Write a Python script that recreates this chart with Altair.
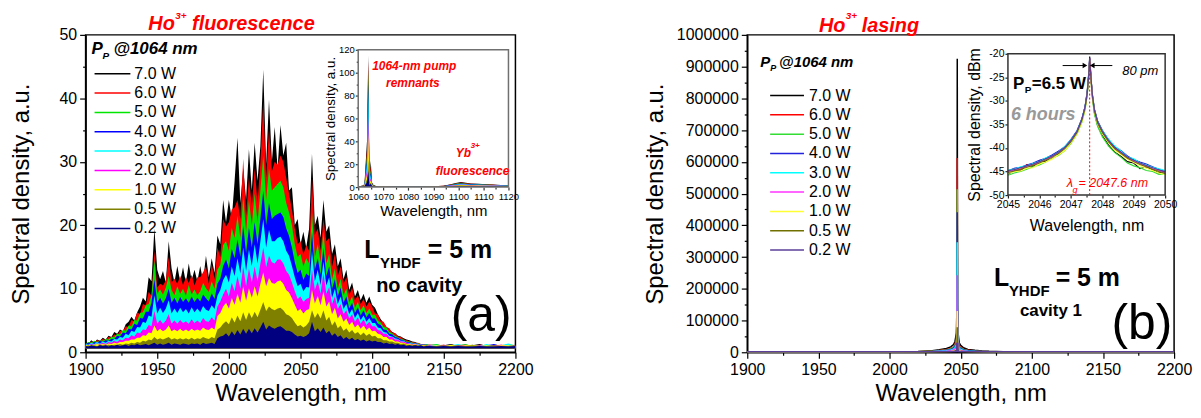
import altair as alt
import pandas as pd

FONT = "Liberation Sans, Arial, Helvetica, sans-serif"

SERIES = ["7.0 W", "6.0 W", "5.0 W", "4.0 W", "3.0 W", "2.0 W", "1.0 W", "0.5 W", "0.2 W"]
COLORS_A = ["#000000", "#ff0000", "#00e600", "#0000ff", "#00ffff", "#ff00ff", "#ffff00", "#808000", "#000080"]
COLORS_B = ["#000000", "#ff0000", "#33dd33", "#2222dd", "#00ffff", "#ff33ff", "#ffff33", "#707000", "#5b3f99"]
WIDTH_B = [1.5, 1.5, 1.5, 1.5, 1.5, 1.5, 1.5, 1.5, 2.5]

# ---------------- panel (a): Ho3+ fluorescence ----------------
WL_A = list(range(1900, 2141, 2)) + list(range(2145, 2201, 5))

FL70 = [1.6,1.4,1.9,1.5,2.0,1.8,2.3,2.0,2.6,2.4,
        3.2,2.9,3.6,3.3,4.4,4.8,5.6,5.0,6.3,7.2,
        8.6,8.0,11.8,11.2,19.5,13.0,11.5,12.8,11.0,17.5,
        13.2,11.0,13.6,11.2,13.4,11.0,14.0,11.3,13.0,11.2,
        13.6,11.2,15.2,11.8,14.8,12.5,18.4,17.0,24.0,20.5,
        24.0,21.0,27.0,33.8,23.5,29.0,24.0,32.0,25.5,33.0,
        27.0,32.5,44.5,29.5,39.8,30.0,35.5,29.0,35.8,31.0,
        33.0,25.5,26.0,20.0,21.0,17.0,19.0,16.5,19.5,31.3,
        20.0,21.5,18.0,24.0,19.0,20.0,15.5,17.0,13.5,14.8,
        11.5,13.0,9.8,11.0,8.8,9.8,8.2,9.2,7.8,8.8,
        7.5,7.0,6.0,5.2,4.6,4.0,3.6,3.2,3.0,2.6,
        2.5,2.2,2.0,1.9,1.7,1.6,1.4,1.3,1.3,1.2,1.2,
        1.2,1.1,1.3,1.0,1.2,1.1,1.3,1.0,1.2,1.1,1.2,1.1]
FL60 = [1.5,1.3,1.7,1.6,1.9,1.8,2.1,1.9,2.4,2.3,
        2.8,2.6,3.4,3.3,4.1,4.0,5.1,4.9,6.3,6.0,
        7.6,7.4,9.5,8.9,16.0,10.2,10.8,10.5,11.3,15.0,
        11.0,11.6,10.8,12.0,10.6,11.8,10.9,12.2,10.5,11.8,
        11.8,12.6,13.5,10.8,13.9,11.5,16.5,15.0,21.0,19.8,
        20.5,22.5,22.8,24.0,21.0,30.5,21.5,27.5,23.0,29.0,
        23.5,30.0,39.5,27.5,35.0,28.5,30.0,29.5,31.0,30.0,
        27.5,25.0,22.5,19.5,17.0,17.5,15.5,16.8,16.0,27.5,
        18.5,19.5,16.0,21.0,17.5,18.0,13.5,15.5,12.0,13.5,
        10.8,11.8,9.0,10.2,8.2,9.0,7.6,8.4,7.2,8.0,
        7.2,6.1,6.0,4.9,4.8,4.0,3.8,3.1,3.0,2.5,
        2.4,2.0,1.9,1.7,1.6,1.5,1.5,1.3,1.3,1.2,1.2,
        1.1,1.2,1.0,1.2,1.1,1.0,1.2,1.1,1.0,1.2,1.1,1.0]
FL50 = [1.4,1.6,1.5,1.8,1.6,1.9,1.8,2.1,2.0,2.4,
        2.4,2.9,2.8,3.5,3.4,4.2,4.1,5.1,5.0,6.2,
        6.3,7.4,7.6,9.0,14.5,9.2,9.9,9.1,10.2,12.0,
        9.8,9.0,10.4,9.2,10.0,8.9,10.6,9.1,9.9,9.0,
        9.6,10.9,10.1,9.5,11.2,10.0,13.0,13.8,16.9,17.5,
        16.0,19.6,18.0,21.5,18.0,24.5,19.0,24.0,20.0,25.0,
        20.5,25.5,31.0,24.0,29.0,25.5,26.0,26.5,27.0,26.0,
        23.5,22.0,20.0,17.0,15.0,15.5,13.5,14.8,14.0,22.0,
        15.0,17.0,14.2,19.0,14.0,15.5,11.5,13.2,10.0,11.6,
        9.0,10.0,7.8,8.8,7.0,7.9,6.6,7.4,6.2,6.9,
        5.9,5.9,5.0,4.7,4.0,3.9,3.2,3.0,2.6,2.4,
        2.1,2.0,1.7,1.7,1.5,1.5,1.4,1.3,1.2,1.3,1.1,
        1.3,1.0,1.1,1.1,1.3,1.0,1.1,1.2,1.1,1.0,1.3,1.1]
FL40 = [1.3,1.5,1.4,1.6,1.5,1.8,1.6,1.9,1.8,2.1,
        2.1,2.6,2.5,3.1,3.0,3.7,3.6,4.5,4.3,5.4,
        5.3,6.4,6.4,7.8,11.5,7.8,8.6,7.7,8.5,10.0,
        7.8,8.6,7.7,8.7,7.9,8.5,7.8,8.8,7.9,8.6,
        8.0,9.1,8.5,8.0,9.3,8.4,10.8,11.6,13.6,14.6,
        13.2,16.3,14.8,17.8,15.0,20.0,15.6,19.6,16.5,20.5,
        17.0,21.0,25.5,20.0,23.5,21.0,21.5,21.8,22.0,21.3,
        19.5,18.3,16.5,14.2,12.5,13.0,11.4,12.4,12.0,19.0,
        13.0,14.8,12.2,16.5,12.0,13.5,10.0,11.5,8.8,10.2,
        7.8,8.8,6.9,7.8,6.2,7.1,5.8,6.6,5.5,6.2,
        5.3,5.3,4.5,4.3,3.6,3.5,2.9,2.8,2.4,2.3,
        2.0,1.9,1.6,1.6,1.4,1.5,1.3,1.3,1.2,1.2,1.1,
        1.0,1.1,1.2,1.0,1.0,1.2,1.0,1.1,1.3,1.0,1.0,1.2]
FL30 = [1.3,1.2,1.5,1.3,1.6,1.4,1.7,1.5,1.8,1.7,
        2.1,2.0,2.4,2.3,2.9,2.7,3.4,3.2,4.0,3.9,
        4.8,4.6,5.8,5.6,9.0,6.1,7.0,6.2,6.9,8.2,
        6.1,6.9,6.2,7.0,6.3,6.8,6.1,7.1,6.3,6.9,
        6.3,7.3,6.7,6.5,7.4,6.8,8.9,9.8,11.4,12.2,
        11.0,13.5,12.0,14.8,12.4,16.5,12.8,16.2,13.6,17.0,
        14.0,17.5,21.0,16.5,19.3,17.5,17.5,18.0,18.2,17.5,
        16.0,15.2,13.6,11.8,10.4,10.8,9.6,10.3,10.2,16.0,
        11.2,13.0,10.6,14.3,10.5,11.8,8.6,10.0,7.6,8.8,
        6.8,7.6,6.0,6.8,5.4,6.2,5.1,5.8,4.8,5.4,
        4.6,4.6,3.9,3.8,3.2,3.1,2.6,2.5,2.2,2.1,
        1.8,1.8,1.5,1.5,1.4,1.4,1.3,1.2,1.2,1.2,1.1,
        1.2,1.0,1.1,1.3,1.0,1.1,1.0,1.3,1.0,1.1,1.4,1.0]
FL20 = [1.2,1.1,1.3,1.2,1.4,1.3,1.5,1.3,1.6,1.5,
        1.8,1.6,2.0,1.9,2.3,2.2,2.7,2.5,3.1,3.0,
        3.6,3.5,4.3,4.1,6.5,4.5,5.1,4.5,5.0,6.0,
        4.5,5.0,4.5,5.1,4.6,4.9,4.5,5.2,4.6,5.0,
        4.6,5.4,4.9,4.8,5.5,5.0,7.2,8.0,9.1,10.0,
        8.8,11.0,9.6,12.0,10.0,13.5,10.4,13.2,11.0,13.5,
        11.2,14.0,16.5,13.4,15.2,14.2,14.0,14.6,14.6,14.0,
        12.8,12.2,11.0,9.6,8.4,8.8,7.9,8.4,8.6,13.0,
        9.8,11.2,9.2,12.5,9.2,10.3,7.6,8.8,6.8,7.6,
        6.0,6.6,5.3,6.0,4.8,5.5,4.5,5.2,4.3,4.8,
        4.1,4.1,3.5,3.4,2.9,2.9,2.4,2.4,2.0,2.0,
        1.7,1.7,1.5,1.4,1.3,1.4,1.2,1.2,1.2,1.1,1.1,
        1.0,1.2,1.0,1.1,1.2,1.0,1.1,1.0,1.1,1.2,1.0,1.1]
FL10 = [1.1,1.2,1.1,1.2,1.3,1.2,1.3,1.2,1.4,1.3,
        1.5,1.4,1.6,1.6,1.8,1.8,2.0,2.0,2.3,2.3,
        2.7,2.6,3.1,3.0,4.2,3.3,3.7,3.3,3.6,4.2,
        3.3,3.6,3.3,3.7,3.3,3.6,3.3,3.7,3.4,3.6,
        3.4,3.9,3.6,3.5,3.9,3.6,5.7,6.2,7.2,7.8,
        6.9,8.6,7.5,9.2,7.8,10.4,8.1,10.1,8.6,10.4,
        8.8,10.8,12.6,10.4,11.7,10.9,10.8,11.2,11.3,10.8,
        9.8,9.4,8.5,7.5,6.5,6.8,6.1,6.6,6.8,9.8,
        7.7,8.9,7.4,9.6,7.2,8.0,6.0,7.0,5.3,6.0,
        4.8,5.3,4.3,4.8,3.9,4.4,3.7,4.2,3.5,3.9,
        3.3,3.4,2.9,2.8,2.4,2.4,2.0,2.0,1.7,1.7,
        1.5,1.5,1.3,1.3,1.2,1.3,1.1,1.2,1.1,1.1,1.0,
        1.1,1.0,1.2,1.0,1.1,1.2,1.0,1.1,1.0,1.1,1.1,1.0]
FL05 = [1.0,1.1,1.0,1.1,1.0,1.2,1.1,1.1,1.2,1.1,
        1.2,1.2,1.3,1.2,1.4,1.3,1.5,1.4,1.6,1.5,
        1.8,1.7,2.0,1.9,2.4,2.0,2.2,2.0,2.2,2.4,
        2.0,2.2,2.0,2.2,2.0,2.2,2.0,2.3,2.0,2.2,
        2.1,2.4,2.2,2.1,2.4,2.2,3.6,3.9,4.5,4.9,
        4.4,5.5,4.7,5.8,4.9,6.3,5.1,6.3,5.4,6.4,
        5.5,6.7,7.9,6.5,7.2,6.8,6.6,6.9,7.0,6.6,
        6.0,5.8,5.4,4.7,4.1,4.3,3.9,4.2,4.8,6.6,
        5.4,6.2,5.3,6.6,5.0,5.6,4.2,4.9,3.8,4.2,
        3.4,3.8,3.1,3.5,2.9,3.2,2.7,3.1,2.6,2.9,
        2.5,2.6,2.2,2.2,1.9,1.9,1.7,1.7,1.5,1.5,
        1.3,1.4,1.2,1.2,1.1,1.2,1.1,1.1,1.0,1.1,1.0,
        1.0,1.1,1.0,1.1,1.0,1.1,1.0,1.0,1.1,1.0,1.0,1.1]
FL02 = [1.0,0.9,1.1,1.0,0.9,1.1,1.0,1.1,0.9,1.1,
        1.0,1.2,1.0,1.1,1.2,1.0,1.2,1.1,1.3,1.1,
        1.2,1.3,1.1,1.3,1.5,1.2,1.4,1.2,1.3,1.5,
        1.2,1.4,1.3,1.2,1.4,1.3,1.2,1.4,1.3,1.4,
        1.2,1.5,1.3,1.4,1.5,1.3,2.2,2.5,2.6,3.0,
        2.5,3.3,2.7,3.5,2.8,3.7,2.9,3.7,3.0,3.8,
        3.1,3.9,4.8,3.6,4.2,3.9,3.7,4.0,4.1,3.8,
        3.4,3.4,3.2,2.8,2.5,2.6,2.4,2.6,3.0,4.8,
        3.3,3.8,3.2,3.9,3.0,3.4,2.6,3.0,2.4,2.7,
        2.1,2.4,2.0,2.3,1.9,2.1,1.8,2.0,1.7,1.9,
        1.7,1.8,1.6,1.6,1.4,1.5,1.3,1.4,1.2,1.3,
        1.1,1.2,1.0,1.1,1.0,1.1,1.0,1.1,0.9,1.0,1.0,
        0.9,1.0,0.9,1.0,0.9,0.9,1.0,0.9,0.9,1.0,0.9,1.0]
FL_ALL = [FL70, FL60, FL50, FL40, FL30, FL20, FL10, FL05, FL02]

# inset (a): pump remnant and Yb3+ fluorescence
IX_A = [1060, 1061, 1062, 1062.5, 1063, 1063.5, 1064, 1064.5, 1065, 1065.5, 1066, 1067, 1068, 1070,
        1075, 1080, 1085, 1090, 1094, 1097, 1099, 1101, 1103, 1105, 1108, 1111, 1114, 1117, 1120]
IA70 = [1,1,1.5,3,22,40,115,8,23,4,2,1,1,0.8,0.6,0.6,0.6,0.8,1.2,2.5,3.5,4.5,3.8,3.2,3.0,2.6,2.2,1.8,1.5]
IA60 = [0.8,1,1.3,2.5,18,32,110,7,18,3.5,1.8,1,0.9,0.7,0.6,0.6,0.6,0.7,1.1,2.2,3.2,4.0,3.4,3.0,2.8,2.4,2.0,1.6,1.4]
IA50 = [0.8,0.9,1.2,2.2,15,28,103,6,15,3,1.6,0.9,0.8,0.7,0.5,0.5,0.5,0.7,1.0,2.0,3.0,3.6,3.0,2.7,2.5,2.2,1.8,1.5,1.3]
IA40 = [0.7,0.8,1.1,2,13,24,92,5,13,2.6,1.4,0.8,0.7,0.6,0.5,0.5,0.5,0.6,0.9,1.8,2.6,3.2,2.7,2.4,2.2,2.0,1.6,1.4,1.2]
IA30 = [0.7,0.8,1,1.8,11,20,85,4.5,11,2.3,1.2,0.8,0.7,0.6,0.5,0.5,0.5,0.6,0.8,1.6,2.3,2.8,2.4,2.1,2.0,1.8,1.5,1.3,1.1]
IA20 = [0.6,0.7,0.9,1.5,8,15,62,3.5,8,1.9,1.0,0.7,0.6,0.5,0.4,0.4,0.4,0.5,0.7,1.3,1.9,2.3,2.0,1.8,1.7,1.5,1.3,1.1,1.0]
IA10 = [0.6,0.7,0.8,1.3,6,11,47,3,6,1.6,0.9,0.6,0.5,0.5,0.4,0.4,0.4,0.5,0.6,1.0,1.5,1.8,1.6,1.5,1.4,1.2,1.1,1.0,0.9]
IA05 = [0.5,0.6,0.7,1,4,7,24,2,4,1.2,0.7,0.5,0.5,0.4,0.4,0.4,0.4,0.4,0.5,0.8,1.1,1.3,1.2,1.1,1.0,0.9,0.8,0.8,0.7]
IA02 = [0.5,0.5,0.6,0.8,2.5,4,14,1.5,3,1.0,0.6,0.5,0.4,0.4,0.3,0.3,0.3,0.4,0.4,0.6,0.8,0.9,0.9,0.8,0.8,0.7,0.7,0.6,0.6]
IA_ALL = [IA70, IA60, IA50, IA40, IA30, IA20, IA10, IA05, IA02]

# ---------------- panel (b): Ho3+ lasing ----------------
WL_B = [1900, 1990, 2010, 2020, 2030, 2035, 2040, 2043, 2045, 2046, 2047, 2047.4, 2047.6, 2047.8,
        2048.2, 2049, 2050, 2052, 2055, 2060, 2065, 2070, 2080, 2100, 2200]
LB70 = [0,500,1500,2500,5000,8000,12000,17000,24000,34000,60000,150000,925000,150000,60000,30000,22000,14000,9000,6000,4000,3000,2000,800,0]
LB60 = [0,300,1000,1800,3500,5500,8500,12000,17000,24000,42000,100000,612000,100000,42000,21000,15000,9500,6000,4000,2800,2000,1300,500,0]
LB50 = [0,250,900,1500,3000,4800,7500,10500,15000,21000,36000,85000,514000,85000,36000,18000,13000,8300,5300,3500,2400,1800,1100,400,0]
LB40 = [0,200,800,1300,2600,4200,6500,9000,13000,18000,31000,72000,441000,72000,31000,15500,11000,7100,4500,3000,2100,1500,1000,350,0]
LB30 = [0,150,600,1000,2000,3300,5000,7000,10000,14000,24000,57000,347000,57000,24000,12000,8500,5500,3500,2300,1600,1200,800,300,0]
LB20 = [0,100,400,700,1400,2300,3500,5000,7000,10000,17000,40000,243000,40000,17000,8500,6000,3900,2500,1600,1100,800,500,200,0]
LB10 = [0,60,200,400,800,1200,1900,2700,3800,5300,9000,21000,130000,21000,9000,4500,3200,2100,1300,900,600,450,300,100,0]
LB05 = [0,40,120,250,500,750,1150,1600,2300,3200,5500,13000,79000,13000,5500,2700,1900,1250,800,550,350,270,180,60,0]
LB02 = [0,20,50,100,200,300,450,650,900,1300,2200,5000,30000,5000,2200,1100,750,500,300,200,150,100,70,25,0]
LB_ALL = [LB70, LB60, LB50, LB40, LB30, LB20, LB10, LB05, LB02]

# inset (b): lasing line in dBm
IX_B = [2045.0, 2045.2, 2045.4, 2045.6, 2045.8, 2046.0, 2046.2, 2046.4, 2046.6, 2046.8, 2047.0, 2047.2,
        2047.35, 2047.45, 2047.52, 2047.57, 2047.6, 2047.63, 2047.68, 2047.75, 2047.85, 2048.0, 2048.2,
        2048.4, 2048.6, 2048.8, 2049.0, 2049.2, 2049.4, 2049.6, 2049.8, 2050.0]
IB70 = [-45.6,-44.8,-44.9,-43.6,-43.9,-42.8,-42.9,-41.6,-41.3,-39.9,-38.6,-36.4,-34.1,-31.3,-28.0,-24.0,-20.6,-23.5,-28.8,-32.5,-35.2,-37.3,-39.4,-40.9,-41.8,-42.9,-43.2,-44.4,-44.0,-44.6,-45.3,-45.0]
IB60 = [-45.0,-44.4,-44.6,-43.5,-43.6,-42.7,-42.3,-41.9,-40.8,-40.1,-38.4,-36.6,-33.9,-31.6,-28.6,-24.8,-21.3,-24.3,-28.4,-31.8,-34.3,-36.4,-38.2,-39.9,-40.8,-41.8,-42.5,-43.1,-43.7,-44.1,-44.6,-45.1]
IB50 = [-45.8,-45.3,-45.0,-44.5,-44.0,-43.6,-43.0,-42.2,-41.6,-40.6,-39.1,-37.0,-34.6,-32.0,-29.0,-25.0,-21.5,-24.6,-29.2,-32.8,-35.4,-37.6,-39.6,-41.0,-42.0,-43.2,-43.8,-44.2,-44.8,-45.0,-45.6,-45.5]
IB40 = [-44.9,-44.3,-44.1,-43.6,-43.2,-42.6,-42.2,-41.5,-40.7,-39.8,-38.2,-36.3,-33.8,-31.3,-28.3,-24.3,-20.8,-23.8,-28.3,-31.7,-34.2,-36.2,-38.3,-39.8,-40.6,-41.7,-42.5,-43.0,-43.4,-44.0,-44.5,-44.9]
IB30 = [-44.7,-44.5,-44.0,-43.8,-43.3,-42.9,-42.1,-41.7,-40.9,-39.7,-38.3,-36.4,-33.9,-31.4,-28.4,-24.6,-21.2,-24.1,-28.4,-31.9,-34.4,-36.3,-38.1,-39.6,-40.7,-41.9,-42.3,-43.2,-43.6,-44.1,-44.4,-44.8]
IB20 = [-45.1,-44.7,-44.4,-43.9,-43.6,-43.1,-42.5,-41.9,-41.1,-40.1,-38.6,-36.6,-34.1,-31.6,-28.6,-24.6,-21.2,-24.2,-28.6,-32.1,-34.6,-36.6,-38.6,-40.1,-41.1,-42.1,-42.8,-43.4,-43.9,-44.4,-44.9,-45.3]
IB10 = [-45.4,-45.0,-44.9,-44.3,-44.2,-43.4,-43.0,-42.4,-41.5,-40.6,-39.0,-37.0,-34.5,-31.9,-28.9,-24.9,-21.4,-24.5,-28.9,-32.4,-34.9,-37.0,-38.9,-40.5,-41.4,-42.4,-43.1,-43.8,-44.3,-44.8,-45.3,-45.7]
IB05 = [-45.2,-44.9,-44.5,-44.1,-43.7,-43.2,-42.6,-42.0,-41.2,-40.2,-38.7,-36.7,-34.2,-31.7,-28.7,-24.7,-21.3,-24.3,-28.7,-32.2,-34.7,-36.7,-38.7,-40.2,-41.2,-42.2,-42.9,-43.5,-44.0,-44.5,-45.0,-45.4]
IB02 = [-44.8,-44.6,-44.2,-43.8,-43.4,-42.9,-42.3,-41.7,-40.9,-39.9,-38.4,-36.4,-33.9,-31.4,-28.4,-24.4,-21.0,-24.0,-28.4,-31.9,-34.4,-36.4,-38.4,-39.9,-40.9,-41.9,-42.6,-43.2,-43.7,-44.2,-44.7,-45.1]
IB_ALL = [IB70, IB60, IB50, IB40, IB30, IB20, IB10, IB05, IB02]

# axis tick values
X_TICKS = list(range(1900, 2201, 25))
YA_TICKS = list(range(0, 51, 5))
YB_TICKS = list(range(0, 1000001, 50000))
XIA_TICKS = list(range(1060, 1121, 5))
YIA_TICKS = list(range(0, 121, 10))
XIB_TICKS = [2045, 2045.5, 2046, 2046.5, 2047, 2047.5, 2048, 2048.5, 2049, 2049.5, 2050]
YIB_TICKS = list(range(-50, -19, 5))

ONE = pd.DataFrame({"d": [0]})


def txt(s, x, y, size, color="black", weight="normal", style="normal", align="left"):
    return alt.Chart(ONE).mark_text(
        text=s, fontSize=size, color=color, fontWeight=weight, fontStyle=style,
        font=FONT, align=align, baseline="middle"
    ).encode(x=alt.value(x), y=alt.value(y))


def tsize(test, minor, major):
    return {"condition": {"test": test, "value": minor}, "value": major}


def main_x_axis():
    return alt.Axis(title="Wavelength, nm", values=X_TICKS,
                    labelExpr="datum.value % 50 === 0 ? '' + datum.value : ''",
                    tickSize=tsize("datum.value % 50 !== 0", 3, 6),
                    labelFlush=False, labelOverlap=False, labelFontSize=16, labelPadding=3,
                    titleFontSize=24, titleFontWeight="normal", titlePadding=4)


def frame(df, xs, ys, xax, yax, stroke=None):
    if stroke is None:
        m = alt.Chart(df).mark_rect(fill="white", fillOpacity=1)
    else:
        m = alt.Chart(df).mark_rect(fill="white", fillOpacity=0, stroke=stroke, strokeWidth=1.5)
    return m.encode(x=alt.X("x0:Q", scale=xs, axis=xax), x2="x1:Q",
                    y=alt.Y("y0:Q", scale=ys, axis=yax), y2="y1:Q")


# ======== panel (a) ========
xa_s = alt.Scale(domain=[1900, 2200], nice=False, zero=False)
ya_s = alt.Scale(domain=[0, 50], nice=False, zero=False)
xa_ax = main_x_axis()
ya_ax = alt.Axis(title="Spectral density, a.u.", values=YA_TICKS,
                 labelExpr="datum.value % 10 === 0 ? '' + datum.value : ''",
                 tickSize=tsize("datum.value % 10 !== 0", 3, 6),
                 labelOverlap=False, labelFontSize=16, labelPadding=3,
                 titleFontSize=24, titleFontWeight="normal", titlePadding=26)

main_a = []
for col, vals in zip(COLORS_A, FL_ALL):
    df = pd.DataFrame({"wl": WL_A, "v": vals})
    main_a.append(alt.Chart(df).mark_area(color=col, opacity=1, clip=True).encode(
        x=alt.X("wl:Q", scale=xa_s, axis=xa_ax),
        y=alt.Y("v:Q", scale=ya_s, axis=ya_ax),
        y2=alt.datum(0.6)))

for k, (s, c) in enumerate(zip(SERIES, COLORS_A)):
    yy = 39 + 19.45 * k
    main_a.append(alt.Chart(ONE).mark_rule(color=c, strokeWidth=1.5).encode(
        x=alt.value(9), x2=alt.value(45), y=alt.value(yy)))
    main_a.append(txt(s, 49, yy, 16))

main_a += [
    txt("Ho", 63, -11, 20, "#ff0000", "bold", "italic"),
    txt("3+", 90, -19, 10, "#ff0000", "bold", "italic"),
    txt("fluorescence", 107, -11, 20, "#ff0000", "bold", "italic"),
    txt("P", 6, 14, 17, "black", "bold", "italic"),
    txt("P", 17, 21, 10, "black", "bold", "italic"),
    txt("@1064 nm", 28, 14, 17, "black", "bold", "italic"),
    txt("L", 280, 216, 25, "black", "bold"),
    txt("YHDF", 296, 229, 15, "black", "bold"),
    txt("= 5 m", 344, 216, 25, "black", "bold"),
    txt("no cavity", 292, 252, 20, "black", "bold"),
    txt("(a)", 367, 283, 50),
]

# inset (a)
xia_s = alt.Scale(domain=[1060, 1120], range=[274, 425], nice=False, zero=False)
yia_s = alt.Scale(domain=[0, 120], range=[153, 15], nice=False, zero=False)
xia_ax = alt.Axis(orient="bottom", offset=-166, title="Wavelength, nm", values=XIA_TICKS,
                  labelExpr="datum.value % 10 === 0 ? '' + datum.value : ''",
                  tickSize=tsize("datum.value % 10 !== 0", 2, 3), domain=False,
                  labelFontSize=9.5, labelPadding=1, labelFlush=False, labelOverlap=False,
                  titleFontSize=15, titleFontWeight="normal", titlePadding=3, tickColor="#333333")
yia_ax = alt.Axis(orient="left", offset=-274, title="Spectral density, a.u.", values=YIA_TICKS,
                  labelExpr="datum.value % 20 === 0 ? '' + datum.value : ''",
                  tickSize=tsize("datum.value % 20 !== 0", 2, 3), domain=False,
                  labelFontSize=9.5, labelPadding=1, labelOverlap=False,
                  titleFontSize=13.5, titleFontWeight="normal", titlePadding=1, tickColor="#333333")
FRAME_A = pd.DataFrame({"x0": [1060], "x1": [1120], "y0": [0], "y1": [120]})

inset_a = [frame(FRAME_A, xia_s, yia_s, xia_ax, yia_ax)]
for col, vals in zip(COLORS_A, IA_ALL):
    df = pd.DataFrame({"wl": IX_A, "v": vals})
    inset_a.append(alt.Chart(df).mark_area(color=col, opacity=1).encode(
        x=alt.X("wl:Q", scale=xia_s, axis=xia_ax),
        y=alt.Y("v:Q", scale=yia_s, axis=yia_ax),
        y2=alt.datum(0)))
inset_a.append(frame(FRAME_A, xia_s, yia_s, xia_ax, yia_ax, "#707070"))
inset_a += [
    txt("1064-nm pump", 288, 31, 12, "#ff0000", "bold", "italic"),
    txt("remnants", 302, 48, 12, "#ff0000", "bold", "italic"),
    txt("Yb", 372, 119, 12, "#ff0000", "bold", "italic"),
    txt("3+", 387, 112, 8, "#ff0000", "bold", "italic"),
    txt("fluorescence", 352, 137, 12, "#ff0000", "bold", "italic"),
]

panel_a = alt.layer(alt.layer(*main_a), alt.layer(*inset_a)).resolve_scale(
    x="independent", y="independent").properties(width=432, height=319)

# ======== panel (b) ========
xb_s = alt.Scale(domain=[1900, 2200], nice=False, zero=False)
yb_s = alt.Scale(domain=[0, 1000000], nice=False, zero=False)
xb_ax = main_x_axis()
yb_ax = alt.Axis(title="Spectral density, a.u.", values=YB_TICKS,
                 labelExpr="datum.value % 100000 === 0 ? '' + datum.value : ''",
                 tickSize=tsize("datum.value % 100000 !== 0", 3, 6),
                 labelOverlap=False, labelFontSize=16, labelPadding=3,
                 titleFontSize=24, titleFontWeight="normal", titlePadding=9)

main_b = []
for col, w, vals in zip(COLORS_B, WIDTH_B, LB_ALL):
    df = pd.DataFrame({"wl": WL_B, "v": vals})
    main_b.append(alt.Chart(df).mark_line(color=col, strokeWidth=w, clip=True).encode(
        x=alt.X("wl:Q", scale=xb_s, axis=xb_ax),
        y=alt.Y("v:Q", scale=yb_s, axis=yb_ax)))

for k, (s, c) in enumerate(zip(SERIES, COLORS_B)):
    yy = 61 + 19.4 * k
    main_b.append(alt.Chart(ONE).mark_rule(color=c, strokeWidth=1.5).encode(
        x=alt.value(23), x2=alt.value(57), y=alt.value(yy)))
    main_b.append(txt(s, 62, yy, 16))

main_b += [
    txt("Ho", 72, -9, 20, "#ff0000", "bold", "italic"),
    txt("3+", 99, -19, 10, "#ff0000", "bold", "italic"),
    txt("lasing", 115, -9, 20, "#ff0000", "bold", "italic"),
    txt("P", 13, 27, 15, "black", "bold", "italic"),
    txt("P", 23, 33, 9, "black", "bold", "italic"),
    txt("@1064 nm", 32, 27, 15, "black", "bold", "italic"),
    txt("L", 248, 244, 25, "black", "bold"),
    txt("YHDF", 263, 257, 15, "black", "bold"),
    txt("= 5 m", 310, 244, 25, "black", "bold"),
    txt("cavity 1", 274, 278, 17, "black", "bold"),
    txt("(b)", 366, 291, 50),
]

# inset (b)
xib_s = alt.Scale(domain=[2045, 2050], range=[262, 420], nice=False, zero=False)
yib_s = alt.Scale(domain=[-50, -20], range=[161, 19], nice=False, zero=False)
xib_ax = alt.Axis(orient="bottom", offset=-158, title="Wavelength, nm", values=XIB_TICKS,
                  labelExpr="datum.value % 1 === 0 ? '' + datum.value : ''",
                  tickSize=tsize("datum.value % 1 !== 0", 2, 3), domain=False,
                  labelFontSize=10.5, labelPadding=1, labelFlush=False, labelOverlap=False,
                  titleFontSize=16, titleFontWeight="normal", titlePadding=8, tickColor="#222222")
yib_ax = alt.Axis(orient="left", offset=-262, title="Spectral density, dBm", values=YIB_TICKS,
                  labelExpr="'' + datum.value", tickSize=3, domain=False,
                  labelFontSize=10.5, labelPadding=1, labelOverlap=False,
                  titleFontSize=16, titleFontWeight="normal", titlePadding=6, tickColor="#222222")
FRAME_B = pd.DataFrame({"x0": [2045], "x1": [2050], "y0": [-50], "y1": [-20]})

inset_b = [frame(FRAME_B, xib_s, yib_s, xib_ax, yib_ax)]
for col, vals in zip(COLORS_B, IB_ALL):
    df = pd.DataFrame({"wl": IX_B, "v": vals})
    inset_b.append(alt.Chart(df).mark_line(color=col, strokeWidth=1.1).encode(
        x=alt.X("wl:Q", scale=xib_s, axis=xib_ax),
        y=alt.Y("v:Q", scale=yib_s, axis=yib_ax)))
inset_b.append(frame(FRAME_B, xib_s, yib_s, xib_ax, yib_ax, "#333333"))

# lasing-wavelength marker and 80 pm arrows
MARK = pd.DataFrame({"x0": [2047.6], "y0": [-50], "y1": [-21]})
inset_b.append(alt.Chart(MARK).mark_rule(color="#ff0000", strokeDash=[2, 2], strokeWidth=1).encode(
    x=alt.X("x0:Q", scale=xib_s, axis=xib_ax),
    y=alt.Y("y0:Q", scale=yib_s, axis=yib_ax), y2="y1:Q"))
ARROWS = pd.DataFrame({"x0": [2046.74, 2048.32], "x1": [2047.45, 2047.68], "y0": [-22.5, -22.5],
                       "shape": ["triangle-right", "triangle-left"]})
inset_b.append(alt.Chart(ARROWS).mark_rule(color="black", strokeWidth=1).encode(
    x=alt.X("x0:Q", scale=xib_s, axis=xib_ax), x2="x1:Q",
    y=alt.Y("y0:Q", scale=yib_s, axis=yib_ax)))
inset_b.append(alt.Chart(ARROWS).mark_point(filled=True, color="black", size=30, opacity=1).encode(
    x=alt.X("x1:Q", scale=xib_s, axis=xib_ax),
    y=alt.Y("y0:Q", scale=yib_s, axis=yib_ax),
    shape=alt.Shape("shape:N", scale=None)))
inset_b += [
    txt("80 pm", 377, 36, 13, "black", "normal", "italic"),
    txt("P", 267, 49, 17, "black", "bold"),
    txt("P", 279, 55, 10, "black", "bold"),
    txt("=6.5 W", 286, 49, 17, "black", "bold"),
    txt("6 hours", 265, 81, 18, "#999999", "bold", "italic"),
    txt("λ", 321, 149, 13, "#ff0000", "normal", "italic"),
    txt("g", 327, 156, 9, "#ff0000", "normal", "italic"),
    txt("= 2047.6 nm", 333, 149, 12.5, "#ff0000", "normal", "italic"),
]

panel_b = alt.layer(alt.layer(*main_b), alt.layer(*inset_b)).resolve_scale(
    x="independent", y="independent").properties(width=429, height=319)

chart = alt.hconcat(panel_a, panel_b, spacing=108).properties(
    padding={"left": 0, "top": 1, "right": 0, "bottom": 0}
).configure(font=FONT).configure_view(stroke="black", strokeWidth=1.5).configure_axis(
    domainColor="black", tickColor="black", labelColor="black", titleColor="black",
    domainWidth=1.5, tickWidth=1.2, grid=False, labelFont=FONT, titleFont=FONT
)

chart.save("out.html", embed_options={"renderer": "svg", "actions": False})
